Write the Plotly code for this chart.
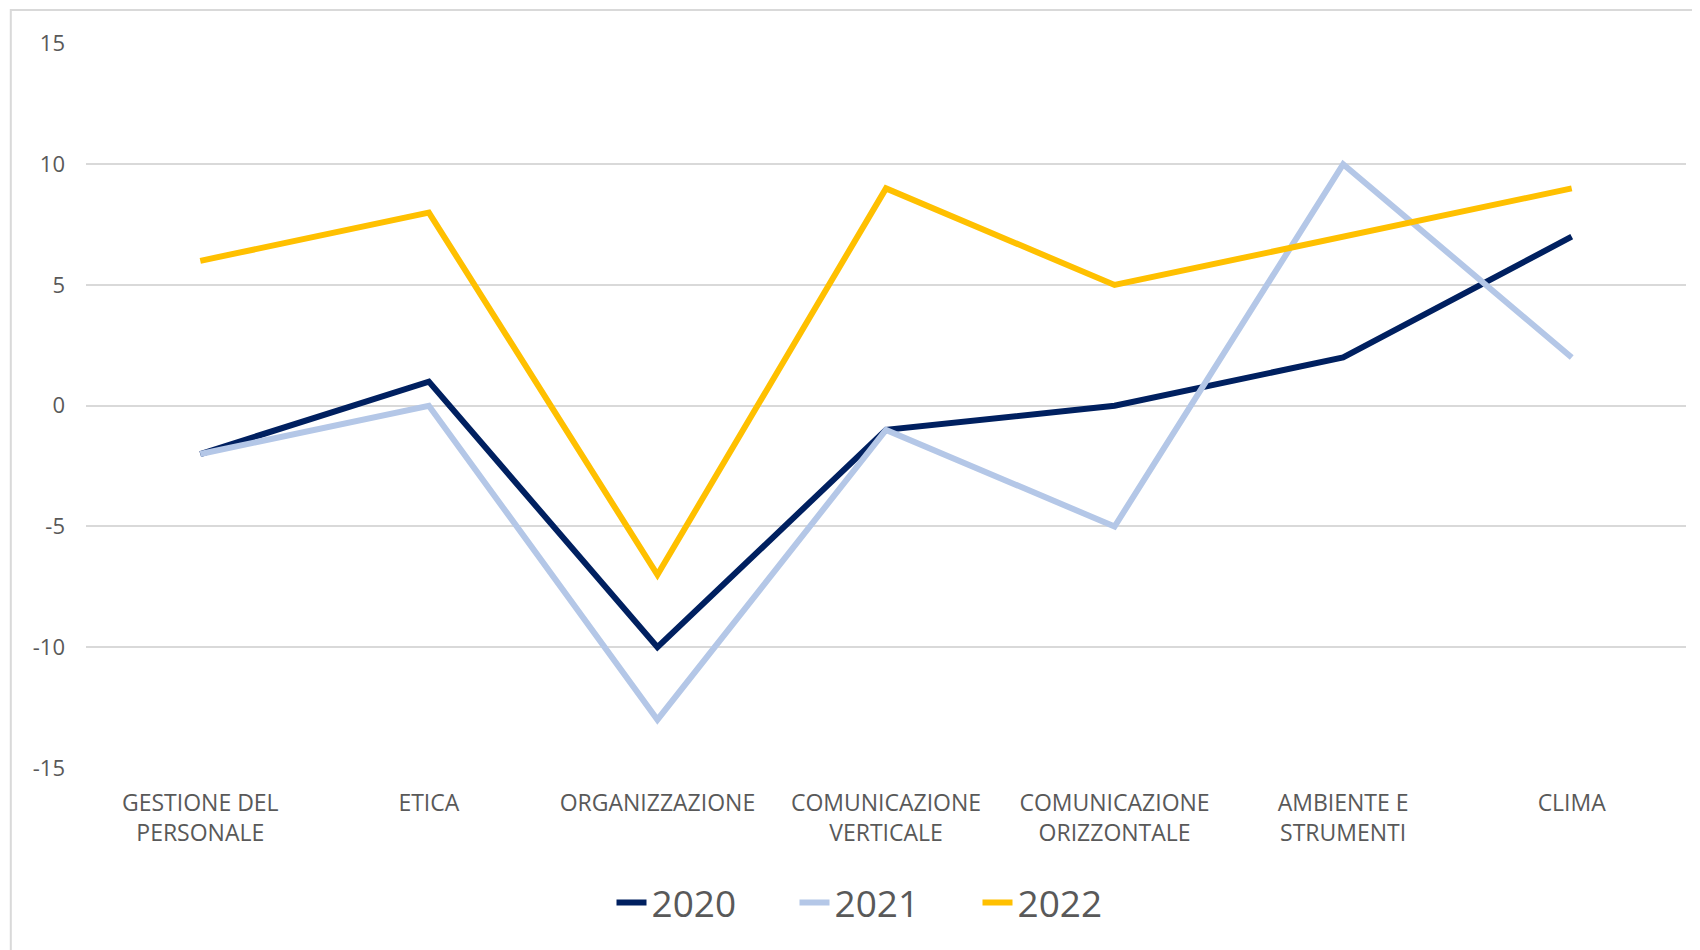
import plotly.graph_objects as go

categories = [
    "GESTIONE DEL<br>PERSONALE",
    "ETICA",
    "ORGANIZZAZIONE",
    "COMUNICAZIONE<br>VERTICALE",
    "COMUNICAZIONE<br>ORIZZONTALE",
    "AMBIENTE E<br>STRUMENTI",
    "CLIMA",
]
values_2020 = [-2, 1, -10, -1, 0, 2, 7]
values_2021 = [-2, 0, -13, -1, -5, 10, 2]
values_2022 = [6, 8, -7, 9, 5, 7, 9]
y_ticks = [-15, -10, -5, 0, 5, 10, 15]

series = [
    ("2020", values_2020, "#002060"),
    ("2021", values_2021, "#B4C7E7"),
    ("2022", values_2022, "#FFC000"),
]

FONT = "Open Sans, sans-serif"

fig = go.Figure()
for name, vals, color in series:
    fig.add_trace(go.Scatter(
        x=categories, y=vals, name=name, mode="lines",
        line=dict(color=color, width=6),
    ))

# outer chart frame
fig.add_shape(type="rect", xref="paper", yref="paper",
              x0=-0.047, x1=1.03, y0=-0.3, y1=1.0455,
              line=dict(color="#D9D9D9", width=2), layer="below")

fig.update_layout(
    width=1700, height=950,
    margin=dict(l=78, r=22, t=35, b=190),
    paper_bgcolor="white", plot_bgcolor="white",
    font=dict(family=FONT, color="#595959", size=21),
    showlegend=True,
    legend=dict(orientation="h", x=0.5, xanchor="center",
                y=-0.186, yanchor="middle",
                font=dict(size=37, color="#595959"),
                entrywidth=138, tracegroupgap=0),
    xaxis=dict(range=[-0.5, 6.5], showgrid=False, showline=False,
               ticks="", tickfont=dict(size=23), tickangle=0,
               ticklabelstandoff=19),
    yaxis=dict(range=[-15, 15.02], tickvals=y_ticks,
               ticktext=[str(v) for v in y_ticks], showgrid=True,
               gridcolor="#D9D9D9", gridwidth=2, zeroline=False,
               showline=False, ticks="", tickfont=dict(size=22),
               ticklabelstandoff=20),
)

fig.write_html("out.html")
